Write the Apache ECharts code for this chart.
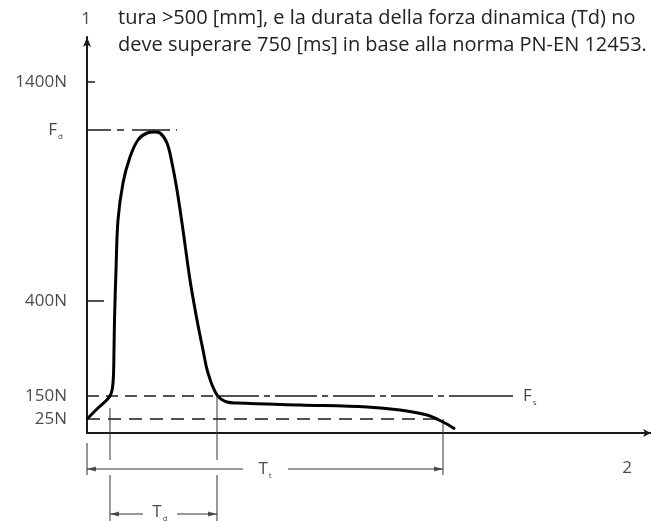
<!DOCTYPE html>
<html><head><meta charset="utf-8">
<script src="https://cdn.jsdelivr.net/npm/echarts@6/dist/echarts.min.js"></script>
<style>html,body{margin:0;padding:0;background:#fff}#c{width:651px;height:521px}</style>
</head><body><div id="c"></div>
<script>
// Diagram units: x = time (schematic), y = force (schematic, non-linear N scale)
const curveT = [0, 11, 23, 26, 27, 27.5, 29, 31, 36, 43, 51, 60, 68, 73, 80, 85, 90, 96, 103, 110, 116, 121, 130, 140, 150, 213, 280, 313, 340, 356, 368];
const curveF = [14, 25, 37, 50, 83, 113, 163, 213, 250, 276, 293, 300, 301, 300, 290, 270, 243, 203, 153, 113, 83, 60, 38, 31, 30, 28, 26, 23, 18, 11, 4];
const levelNames = ['25N', '150N', '400N', 'Fd', '1400N'];
const levelValues = [14, 37, 132, 303, 351];
const tDynStart = 23, tDynEnd = 130, tTotEnd = 356;
const headerLines = ['tura >500 [mm], e la durata della forza dinamica (Td) no', 'deve superare 750 [ms] in base alla norma PN-EN 12453.'];

const FONT = 'Open Sans';
const INK = '#1a1a1a';
const DIM = '#333';
const lv = n => levelValues[levelNames.indexOf(n)];
const curve = curveT.map((t, i) => [t, curveF[i]]);

function seg(data, width, type, color) {
  return { type: 'line', data, symbol: 'none', silent: true, clip: false, animation: false,
    lineStyle: { width, type: type || 'solid', color: color || INK } };
}
const rich = {
  m: { fontSize: 17, fontFamily: FONT, color: INK },
  s: { fontSize: 8, fontFamily: FONT, color: INK, padding: [13, 0, 0, 1] }
};
function lab(x, y, text, pos, dist) {
  return { value: [x, y], label: { show: true, position: pos, distance: dist || 0, formatter: text, rich } };
}
const ylabels = levelNames.map((n, i) => lab(0, levelValues[i], n === 'Fd' ? '{m|F}{s|d}' : '{m|' + n + '}', 'left', n === 'Fd' ? 24 : 20));

// arrowheads (triangle symbols), centred half a head-length from the tip
const HEAD = 9;
const arrowsLeft = [[0, -36], [tDynStart, -81]];
const arrowsRight = [[tTotEnd, -36], [tDynEnd, -81]];

const option = {
  animation: false,
  title: { text: headerLines.join('\n'), left: 113, top: 0,
    textStyle: { fontFamily: FONT, fontSize: 20, fontWeight: 'normal', color: '#222', lineHeight: 27 } },
  grid: { left: 87, right: 0, top: 37, bottom: 88 },
  xAxis: { type: 'value', min: 0, max: 564, axisLine: { lineStyle: { color: INK, width: 2 }, symbol: ['none', 'arrow'], symbolSize: [6, 8] },
    axisTick: { show: false }, axisLabel: { show: false }, splitLine: { show: false } },
  yAxis: { type: 'value', min: 0, max: 396, axisLine: { show: true, lineStyle: { color: INK, width: 2 }, symbol: ['none', 'arrow'], symbolSize: [6, 10] },
    axisTick: { show: false }, axisLabel: { show: false }, splitLine: { show: false } },
  series: [
    // reference levels
    seg([[0, lv('150N')], [tDynEnd, lv('150N')]], 1.5, [12, 7]),
    seg([[tDynEnd, lv('150N')], [380, lv('150N')]], 1.5, [42, 5, 6, 5]),
    seg([[380, lv('150N')], [426, lv('150N')]], 1.5),
    seg([[0, lv('25N')], [tTotEnd, lv('25N')]], 1.5, [13, 8]),
    seg([[-14, lv('Fd')], [90, lv('Fd')]], 1.5, [38, 6, 7, 8]),
    // ticks
    seg([[0, lv('1400N')], [8, lv('1400N')]], 1.5),
    seg([[0, lv('400N')], [17, lv('400N')]], 1.5),
    // extension lines
    seg([[0, -10], [0, -42]], 1, 'solid', DIM),
    seg([[tDynStart, 25], [tDynStart, -27]], 1, 'solid', DIM),
    seg([[tDynStart, -42], [tDynStart, -90]], 1, 'solid', DIM),
    seg([[tDynEnd, lv('150N')], [tDynEnd, -27]], 1, 'solid', DIM),
    seg([[tDynEnd, -42], [tDynEnd, -90]], 1, 'solid', DIM),
    seg([[tTotEnd, lv('25N')], [tTotEnd, -42]], 1, 'solid', DIM),
    // dimension lines (with gaps for labels)
    seg([[0, -36], [156, -36]], 1, 'solid', DIM),
    seg([[201, -36], [tTotEnd, -36]], 1, 'solid', DIM),
    seg([[tDynStart, -81], [56, -81]], 1, 'solid', DIM),
    seg([[90, -81], [tDynEnd, -81]], 1, 'solid', DIM),
    { type: 'scatter', clip: false, silent: true, symbol: 'triangle', symbolSize: [5, HEAD], symbolRotate: 90,
      itemStyle: { color: DIM }, data: arrowsLeft.map(p => [p[0] + HEAD / 2, p[1]]) },
    { type: 'scatter', clip: false, silent: true, symbol: 'triangle', symbolSize: [5, HEAD], symbolRotate: -90,
      itemStyle: { color: DIM }, data: arrowsRight.map(p => [p[0] - HEAD / 2, p[1]]) },
    // curve
    { type: 'line', data: curve, symbol: 'none', smooth: 0.35, clip: false, silent: true,
      lineStyle: { width: 3, color: '#000' } },
    // labels
    { type: 'scatter', symbolSize: 0, clip: false, silent: true, data: ylabels.concat([
      lab(426, lv('150N'), '{m|F}{s|s}', 'right', 10),
      lab(178, -36, '{m|T}{s|t}', 'inside', 0),
      lab(73, -79, '{m|T}{s|d}', 'inside', 0),
      lab(-1, 414, '{m|1}', 'inside', 0),
      lab(540, -35, '{m|2}', 'inside', 0)
    ]) }
  ]
};
const chart = echarts.init(document.getElementById('c'), null, { renderer: 'canvas' });
chart.setOption(option);
</script></body></html>
